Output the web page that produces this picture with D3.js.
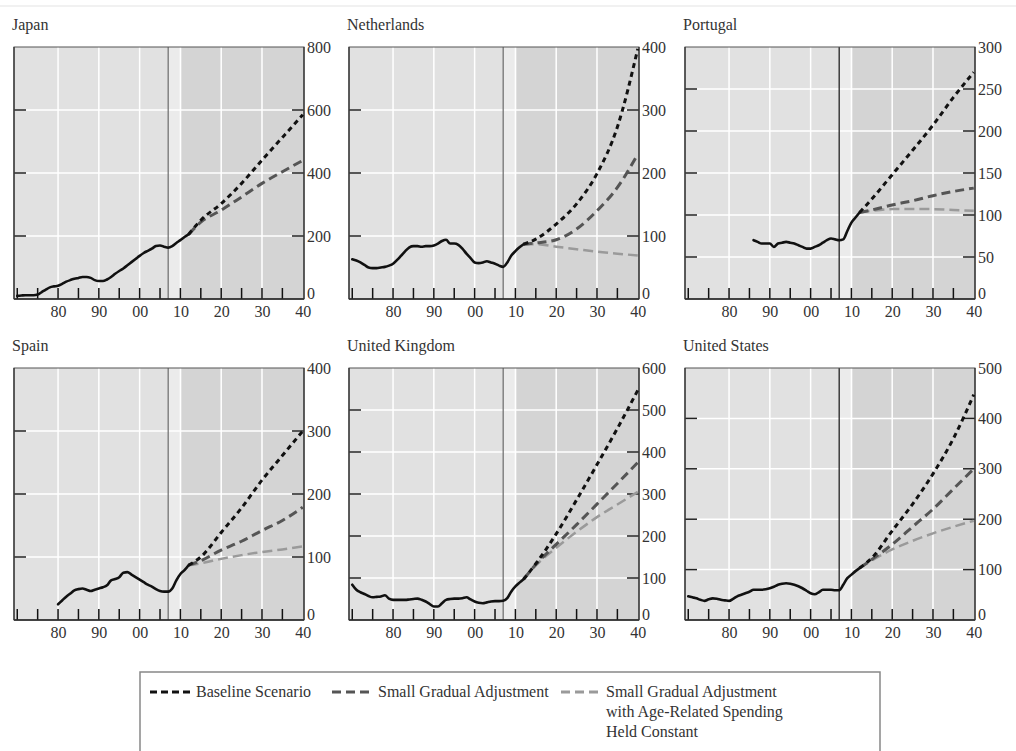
<!DOCTYPE html>
<html>
<head>
<meta charset="utf-8">
<script src="https://cdn.jsdelivr.net/npm/d3@7"></script>
<style>
  html, body { margin: 0; padding: 0; background: #ffffff; }
  svg { display: block; }
</style>
</head>
<body>
<svg id="chart" width="1016" height="751"></svg>
<script>
// ---------------- DATA ----------------
const countries = ["Japan", "Netherlands", "Portugal", "Spain", "United Kingdom", "United States"];
const projYears = [2012, 2015, 2020, 2025, 2030, 2035, 2040];
const xTickYears = [1980, 1990, 2000, 2010, 2020, 2030, 2040];
const xTickLabels = ["80", "90", "00", "10", "20", "30", "40"];
const seriesNames = ["Baseline Scenario", "Small Gradual Adjustment", "Small Gradual Adjustment with Age-Related Spending Held Constant"];

const japanTicks = [0, 200, 400, 600, 800];
const japanHistory = [[1970,10],[1971,11],[1972,12],[1973,12],[1974,12],[1975,14],[1976,22],[1977,30],[1978,37],[1979,40],[1980,42],[1981,48],[1982,55],[1983,60],[1984,64],[1985,67],[1986,70],[1987,70],[1988,67],[1989,60],[1990,57],[1991,57],[1992,62],[1993,70],[1994,80],[1995,89],[1996,97],[1997,107],[1998,117],[1999,127],[2000,137],[2001,146],[2002,153],[2003,160],[2004,168],[2005,170],[2006,166],[2007,163],[2008,168],[2009,178],[2010,187],[2011,197],[2012,205]];
const japanBaseline = [205, 250, 303, 367, 441, 513, 585];
const japanGradual = [205, 244, 282, 324, 367, 404, 440];
const japanAgeConst = null;

const netherlandsTicks = [0, 100, 200, 300, 400];
const netherlandsHistory = [[1970,63],[1971,61],[1972,58],[1973,54],[1974,50],[1975,49],[1976,49],[1977,50],[1978,51],[1979,53],[1980,56],[1981,62],[1982,69],[1983,76],[1984,82],[1985,84],[1986,84],[1987,83],[1988,84],[1989,84],[1990,85],[1991,88],[1992,92],[1993,94],[1994,88],[1995,88],[1996,86],[1997,80],[1998,72],[1999,65],[2000,58],[2001,57],[2002,58],[2003,60],[2004,58],[2005,56],[2006,53],[2007,51],[2008,58],[2009,69],[2010,76],[2011,82],[2012,87]];
const netherlandsBaseline = [87, 95, 119, 151, 199, 273, 397];
const netherlandsGradual = [87, 89, 94, 111, 140, 177, 230];
const netherlandsAgeConst = [87, 87, 83, 79, 75, 72, 69];

const portugalTicks = [0, 50, 100, 150, 200, 250, 300];
const portugalHistory = [[1986,70],[1987,68],[1988,66],[1989,66],[1990,66],[1991,62],[1992,66],[1993,67],[1994,68],[1995,67],[1996,66],[1997,64],[1998,62],[1999,60],[2000,60],[2001,62],[2002,64],[2003,67],[2004,70],[2005,72],[2006,71],[2007,70],[2008,71],[2009,81],[2010,91],[2011,97],[2012,103]];
const portugalBaseline = [103, 119, 148, 177, 207, 240, 270];
const portugalGradual = [103, 106, 112, 117, 123, 128, 132];
const portugalAgeConst = [103, 105, 107, 107, 107, 106, 105];

const spainTicks = [0, 100, 200, 300, 400];
const spainHistory = [[1980,25],[1981,31],[1982,37],[1983,42],[1984,47],[1985,49],[1986,50],[1987,48],[1988,46],[1989,48],[1990,50],[1991,52],[1992,55],[1993,63],[1994,65],[1995,68],[1996,75],[1997,76],[1998,72],[1999,68],[2000,64],[2001,60],[2002,56],[2003,53],[2004,49],[2005,46],[2006,45],[2007,45],[2008,50],[2009,63],[2010,73],[2011,79],[2012,87]];
const spainBaseline = [87, 100, 139, 178, 222, 261, 300];
const spainGradual = [87, 94, 111, 125, 142, 158, 179];
const spainAgeConst = [87, 90, 97, 103, 108, 112, 117];

const ukTicks = [0, 100, 200, 300, 400, 500, 600];
const ukHistory = [[1970,84],[1971,72],[1972,66],[1973,62],[1974,57],[1975,54],[1976,55],[1977,56],[1978,59],[1979,51],[1980,48],[1981,48],[1982,48],[1983,48],[1984,49],[1985,50],[1986,51],[1987,48],[1988,44],[1989,38],[1990,32],[1991,32],[1992,40],[1993,48],[1994,50],[1995,51],[1996,51],[1997,52],[1998,54],[1999,49],[2000,44],[2001,41],[2002,40],[2003,42],[2004,44],[2005,45],[2006,45],[2007,46],[2008,52],[2009,68],[2010,80],[2011,89],[2012,97]];
const ukBaseline = [97, 134, 205, 286, 370, 456, 547];
const ukGradual = [97, 132, 180, 227, 276, 325, 375];
const ukAgeConst = [97, 130, 172, 210, 245, 275, 305];

const usTicks = [0, 100, 200, 300, 400, 500];
const usHistory = [[1970,47],[1971,45],[1972,43],[1973,40],[1974,38],[1975,41],[1976,43],[1977,42],[1978,40],[1979,39],[1980,38],[1981,42],[1982,47],[1983,50],[1984,53],[1985,56],[1986,60],[1987,60],[1988,60],[1989,61],[1990,63],[1991,66],[1992,70],[1993,72],[1994,73],[1995,72],[1996,70],[1997,67],[1998,63],[1999,58],[2000,53],[2001,51],[2002,55],[2003,60],[2004,60],[2005,60],[2006,59],[2007,59],[2008,70],[2009,83],[2010,90],[2011,97],[2012,103]];
const usBaseline = [103, 123, 177, 230, 290, 360, 447];
const usGradual = [103, 120, 150, 185, 220, 260, 300];
const usAgeConst = [103, 118, 140, 157, 172, 185, 197];

const panels = [
  { name: countries[0], ticks: japanTicks, history: japanHistory, proj: [japanBaseline, japanGradual, japanAgeConst] },
  { name: countries[1], ticks: netherlandsTicks, history: netherlandsHistory, proj: [netherlandsBaseline, netherlandsGradual, netherlandsAgeConst] },
  { name: countries[2], ticks: portugalTicks, history: portugalHistory, proj: [portugalBaseline, portugalGradual, portugalAgeConst] },
  { name: countries[3], ticks: spainTicks, history: spainHistory, proj: [spainBaseline, spainGradual, spainAgeConst] },
  { name: countries[4], ticks: ukTicks, history: ukHistory, proj: [ukBaseline, ukGradual, ukAgeConst] },
  { name: countries[5], ticks: usTicks, history: usHistory, proj: [usBaseline, usGradual, usAgeConst] }
];

// ---------------- STYLE / LAYOUT ----------------
const FONT = "'Liberation Serif', 'DejaVu Serif', serif";
const colLeft = [14, 349, 685];
const rowTop = [47, 368];
const PW = 290, PH = 252;
const projStyles = [
  { color: "#111111", dash: "5,4", width: 3 },
  { color: "#555555", dash: "9,5", width: 3 },
  { color: "#9a9a9a", dash: "10,5", width: 2.5 }
];
const darkVline = { "Portugal": true, "United States": true };

const svg = d3.select("#chart");

// faint top rule
svg.append("line").attr("x1", 0).attr("x2", 1016).attr("y1", 6).attr("y2", 6)
  .attr("stroke", "#ececec").attr("stroke-width", 1.5);

panels.forEach((p, i) => {
  const x0 = colLeft[i % 3], y0 = rowTop[Math.floor(i / 3)];
  const g = svg.append("g").attr("transform", `translate(${x0},${y0})`);
  const x = d3.scaleLinear().domain([1969.2, 2040.3]).range([0, PW]);
  const y = d3.scaleLinear().domain([p.ticks[0], p.ticks[p.ticks.length - 1]]).range([PH, 0]);

  // backgrounds
  g.append("rect").attr("x", 0).attr("y", 0).attr("width", x(2007)).attr("height", PH).attr("fill", "#e1e1e1");
  g.append("rect").attr("x", x(2007)).attr("y", 0).attr("width", x(2010.2) - x(2007)).attr("height", PH).attr("fill", "#ebebeb");
  g.append("rect").attr("x", x(2010.2)).attr("y", 0).attr("width", PW - x(2010.2)).attr("height", PH).attr("fill", "#d4d4d4");

  // white gridlines
  g.append("g").selectAll("line").data(p.ticks.slice(1, -1)).join("line")
    .attr("x1", 0).attr("x2", PW).attr("y1", d => y(d)).attr("y2", d => y(d))
    .attr("stroke", "#ffffff").attr("stroke-width", 1.5);
  g.append("g").selectAll("line").data(xTickYears.slice(0, -1)).join("line")
    .attr("x1", d => x(d)).attr("x2", d => x(d)).attr("y1", 0).attr("y2", PH)
    .attr("stroke", "#ffffff").attr("stroke-width", 1.5);

  // vertical marker line
  g.append("line").attr("x1", x(2007)).attr("x2", x(2007)).attr("y1", 0).attr("y2", PH)
    .attr("stroke", darkVline[p.name] ? "#111111" : "#6a6a6a").attr("stroke-width", 1.2);

  // inner ticks: bottom every 5 years
  const bottomTicks = d3.range(1970, 2040, 5);
  g.append("g").selectAll("line").data(bottomTicks).join("line")
    .attr("x1", d => x(d)).attr("x2", d => x(d)).attr("y1", PH).attr("y2", PH - 11)
    .attr("stroke", "#111").attr("stroke-width", 1.5);
  // left and right inner ticks
  g.append("g").selectAll("line").data(p.ticks.slice(1, -1)).join("line")
    .attr("x1", 0).attr("x2", 12).attr("y1", d => y(d)).attr("y2", d => y(d))
    .attr("stroke", "#222").attr("stroke-width", 1.5);
  g.append("g").selectAll("line").data(p.ticks.slice(1, -1)).join("line")
    .attr("x1", PW - 12).attr("x2", PW).attr("y1", d => y(d)).attr("y2", d => y(d))
    .attr("stroke", "#222").attr("stroke-width", 1.5);

  // frame
  g.append("rect").attr("x", 0).attr("y", 0).attr("width", PW).attr("height", PH)
    .attr("fill", "none").attr("stroke", "#555").attr("stroke-width", 1);
  g.append("line").attr("x1", 0).attr("x2", PW).attr("y1", PH).attr("y2", PH)
    .attr("stroke", "#222").attr("stroke-width", 1.5);
  g.append("line").attr("x1", 0).attr("x2", 0).attr("y1", 0).attr("y2", PH)
    .attr("stroke", "#333").attr("stroke-width", 1.3);
  g.append("line").attr("x1", PW).attr("x2", PW).attr("y1", 0).attr("y2", PH)
    .attr("stroke", "#333").attr("stroke-width", 1.3);

  // projections
  const line = d3.line().x(d => x(d[0])).y(d => y(d[1])).curve(d3.curveMonotoneX);
  [2, 1, 0].forEach(k => {
    const vals = p.proj[k];
    if (!vals) return;
    const pts = projYears.map((yr, j) => [yr, vals[j]]);
    g.append("path").datum(pts).attr("d", line)
      .attr("fill", "none").attr("stroke", projStyles[k].color)
      .attr("stroke-width", projStyles[k].width).attr("stroke-dasharray", projStyles[k].dash);
  });

  // history
  const hline = d3.line().x(d => x(d[0])).y(d => y(d[1])).curve(d3.curveMonotoneX);
  g.append("path").datum(p.history).attr("d", hline)
    .attr("fill", "none").attr("stroke", "#111").attr("stroke-width", 2.6)
    .attr("stroke-linejoin", "round").attr("stroke-linecap", "round");

  // right axis labels
  const yAxis = d3.axisRight(y).tickValues(p.ticks).tickSize(0).tickPadding(3);
  const ya = g.append("g").attr("transform", `translate(${PW},0)`).call(yAxis);
  ya.select(".domain").remove();
  ya.selectAll("text").attr("font-family", FONT).attr("font-size", 16).attr("fill", "#333");
  ya.selectAll(".tick").filter(d => d === p.ticks[0]).select("text").attr("dy", "-0.05em");

  // bottom axis labels
  const xAxis = d3.axisBottom(x).tickValues(xTickYears).tickFormat((d, j) => xTickLabels[j]).tickSize(0).tickPadding(7);
  const xa = g.append("g").attr("transform", `translate(0,${PH})`).call(xAxis);
  xa.select(".domain").remove();
  xa.selectAll("text").attr("font-family", FONT).attr("font-size", 16).attr("fill", "#333");

  // title
  g.append("text").attr("x", -2).attr("y", -17).text(p.name)
    .attr("font-family", FONT).attr("font-size", 16).attr("fill", "#333");
});

// ---------------- LEGEND ----------------
const lg = svg.append("g");
lg.append("path").attr("d", "M140,752 L140,672 L880,672 L880,752")
  .attr("fill", "none").attr("stroke", "#888").attr("stroke-width", 1.5);
const legendItems = [
  { sx: 150, tx: 196, lines: [seriesNames[0]] },
  { sx: 332, tx: 378, lines: [seriesNames[1]] },
  { sx: 561, tx: 606, lines: ["Small Gradual Adjustment", "with Age-Related Spending", "Held Constant"] }
];
legendItems.forEach((it, k) => {
  lg.append("line").attr("x1", it.sx).attr("x2", it.sx + 40).attr("y1", 692).attr("y2", 692)
    .attr("stroke", projStyles[k].color).attr("stroke-width", 3)
    .attr("stroke-dasharray", k === 0 ? "7,4" : "9,5");
  it.lines.forEach((t, j) => {
    lg.append("text").attr("x", it.tx).attr("y", 697 + j * 20).text(t)
      .attr("font-family", FONT).attr("font-size", 16).attr("fill", "#333");
  });
});
</script>
</body>
</html>
